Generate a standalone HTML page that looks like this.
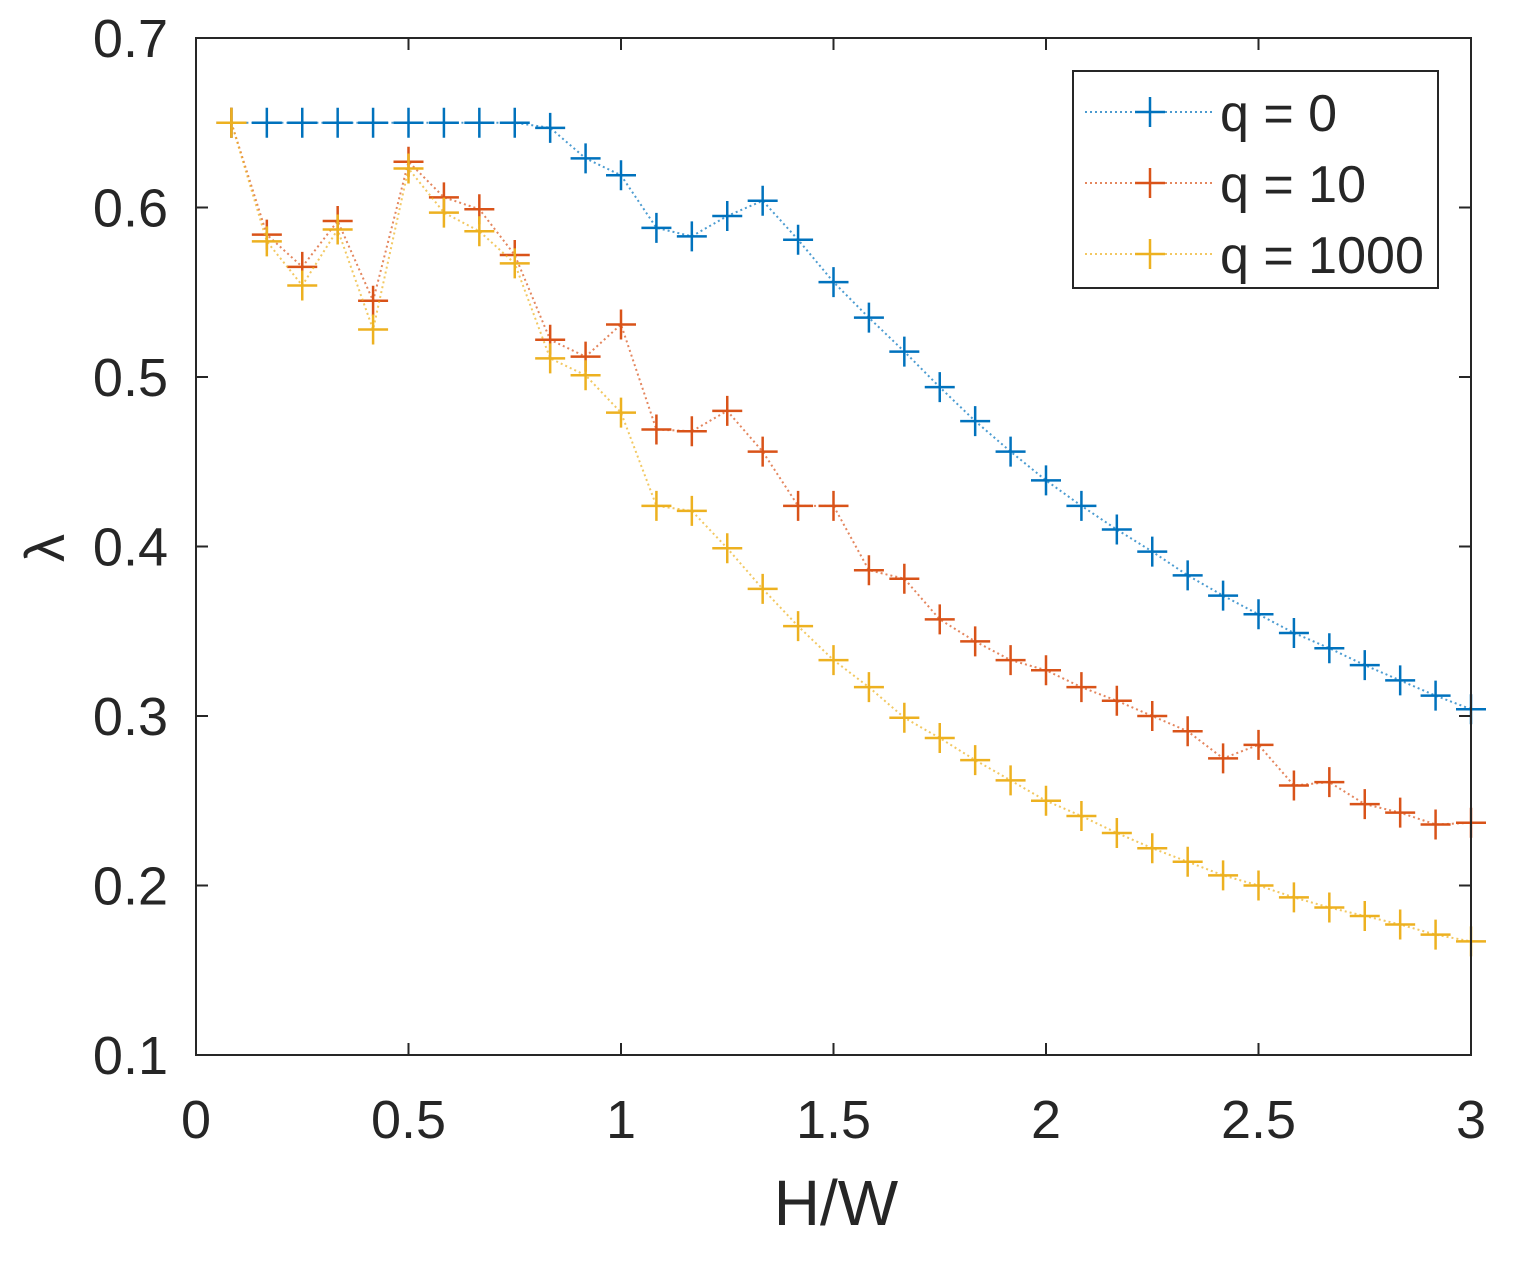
<!DOCTYPE html>
<html><head><meta charset="utf-8">
<style>
html,body{margin:0;padding:0;background:#fff;}
svg{display:block;font-family:"Liberation Sans",sans-serif;}
</style></head>
<body>
<svg id="chart" width="1513" height="1268" viewBox="0 0 1513 1268" xmlns="http://www.w3.org/2000/svg">
<rect x="0" y="0" width="1513" height="1268" fill="#fff"/>
<g id="grid"></g>
<g id="series"></g>
<rect x="196" y="38" width="1275" height="1017" fill="none" stroke="#262626" stroke-width="2"/>
<g id="ticks"></g>
<text x="836" y="1225" font-size="64" text-anchor="middle" fill="#262626">H/W</text>
<text x="0" y="0" font-size="56" text-anchor="middle" fill="#262626" transform="translate(64,548) rotate(-90)">λ</text>
<g id="legend">
<rect x="1073" y="71" width="365" height="217" fill="#fff" stroke="#262626" stroke-width="2"/>
</g>
</svg>
<script>
const xTicks = [0, 0.5, 1, 1.5, 2, 2.5, 3];
const xTickLabels = ["0", "0.5", "1", "1.5", "2", "2.5", "3"];
const yTicks = [0.1, 0.2, 0.3, 0.4, 0.5, 0.6, 0.7];
const yTickLabels = ["0.1", "0.2", "0.3", "0.4", "0.5", "0.6", "0.7"];
const seriesNames = ["q = 0", "q = 10", "q = 1000"];
const xValues = [1,2,3,4,5,6,7,8,9,10,11,12,13,14,15,16,17,18,19,20,21,22,23,24,25,26,27,28,29,30,31,32,33,34,35,36].map(k => k / 12);
const q0 = [0.650,0.650,0.650,0.650,0.650,0.650,0.650,0.650,0.650,0.647,0.629,0.619,0.588,0.583,0.595,0.604,0.581,0.556,0.535,0.515,0.494,0.474,0.456,0.439,0.424,0.410,0.397,0.383,0.371,0.360,0.349,0.340,0.330,0.321,0.312,0.304];
const q10 = [0.650,0.584,0.565,0.592,0.545,0.627,0.606,0.599,0.572,0.522,0.512,0.531,0.469,0.468,0.480,0.456,0.424,0.424,0.386,0.381,0.357,0.344,0.333,0.327,0.317,0.309,0.300,0.291,0.275,0.283,0.259,0.261,0.248,0.243,0.236,0.237];
const q1000 = [0.650,0.580,0.554,0.587,0.528,0.623,0.597,0.586,0.567,0.511,0.501,0.479,0.424,0.421,0.399,0.375,0.353,0.333,0.317,0.299,0.287,0.274,0.262,0.250,0.241,0.231,0.222,0.214,0.206,0.200,0.193,0.187,0.182,0.177,0.171,0.167];

const NS = "http://www.w3.org/2000/svg";
const X0 = 196, X1 = 1471, Y0 = 1055, Y1 = 38;
const xScale = v => X0 + (v - 0) / 3 * (X1 - X0);
const yScale = v => Y0 - (v - 0.1) / 0.6 * (Y0 - Y1);
function mk(tag, attrs, parent) {
  const e = document.createElementNS(NS, tag);
  for (const k in attrs) e.setAttribute(k, attrs[k]);
  parent.appendChild(e);
  return e;
}
const ticks = document.getElementById("ticks");
xTicks.forEach((t, i) => {
  const x = xScale(t);
  const l1 = mk("line", {x1: x, x2: x, y1: Y0, y2: Y0 - 12, stroke: "#262626", "stroke-width": 2}, ticks);
  
  
  const l2 = mk("line", {x1: x, x2: x, y1: Y1, y2: Y1 + 12, stroke: "#262626", "stroke-width": 2}, ticks);
  
  
  const tx = mk("text", {x: x, y: 1138, "font-size": 54, "text-anchor": "middle", fill: "#262626"}, ticks);
  tx.textContent = xTickLabels[i];
  
  
});
yTicks.forEach((t, i) => {
  const y = yScale(t);
  const l1 = mk("line", {x1: X0, x2: X0 + 12, y1: y, y2: y, stroke: "#262626", "stroke-width": 2}, ticks);
  
  
  const l2 = mk("line", {x1: X1, x2: X1 - 12, y1: y, y2: y, stroke: "#262626", "stroke-width": 2}, ticks);
  
  
  const tx = mk("text", {x: 168, y: y + 19, "font-size": 54, "text-anchor": "end", fill: "#262626"}, ticks);
  tx.textContent = yTickLabels[i];
  
  
});
const colors = ["#0072BD", "#D95319", "#EDB120"];
const data = [q0, q10, q1000];
const sg = document.getElementById("series");
const M = 15;
data.forEach((vals, si) => {
  const g = mk("g", {}, sg);
  
  
  const pts = vals.map((v, i) => xScale(xValues[i]) + "," + yScale(v)).join(" ");
  const pl = mk("polyline", {points: pts, fill: "none", stroke: colors[si], "stroke-width": 2, "stroke-dasharray": "2,3", opacity: 0.7}, g);
  
  
  vals.forEach((v, i) => {
    const x = xScale(xValues[i]), y = yScale(v);
    const p = mk("path", {d: `M${x - M},${y}H${x + M}M${x},${y - M}V${y + M}`, stroke: colors[si], "stroke-width": 2.5, fill: "none"}, g);
    
    
  });
});
const lg = document.getElementById("legend");
seriesNames.forEach((n, i) => {
  const y = 112 + i * 71;
  const l = mk("line", {x1: 1085, x2: 1215, y1: y, y2: y, stroke: colors[i], "stroke-width": 2, "stroke-dasharray": "2,3", opacity: 0.7}, lg);
  
  
  const p = mk("path", {d: `M${1150 - M},${y}H${1150 + M}M1150,${y - M}V${y + M}`, stroke: colors[i], "stroke-width": 2.5}, lg);
  
  
  const t = mk("text", {x: 1220, y: y + 19, "font-size": 52, fill: "#262626"}, lg);
  t.textContent = n;
  
  
});
</script>
</body></html>
